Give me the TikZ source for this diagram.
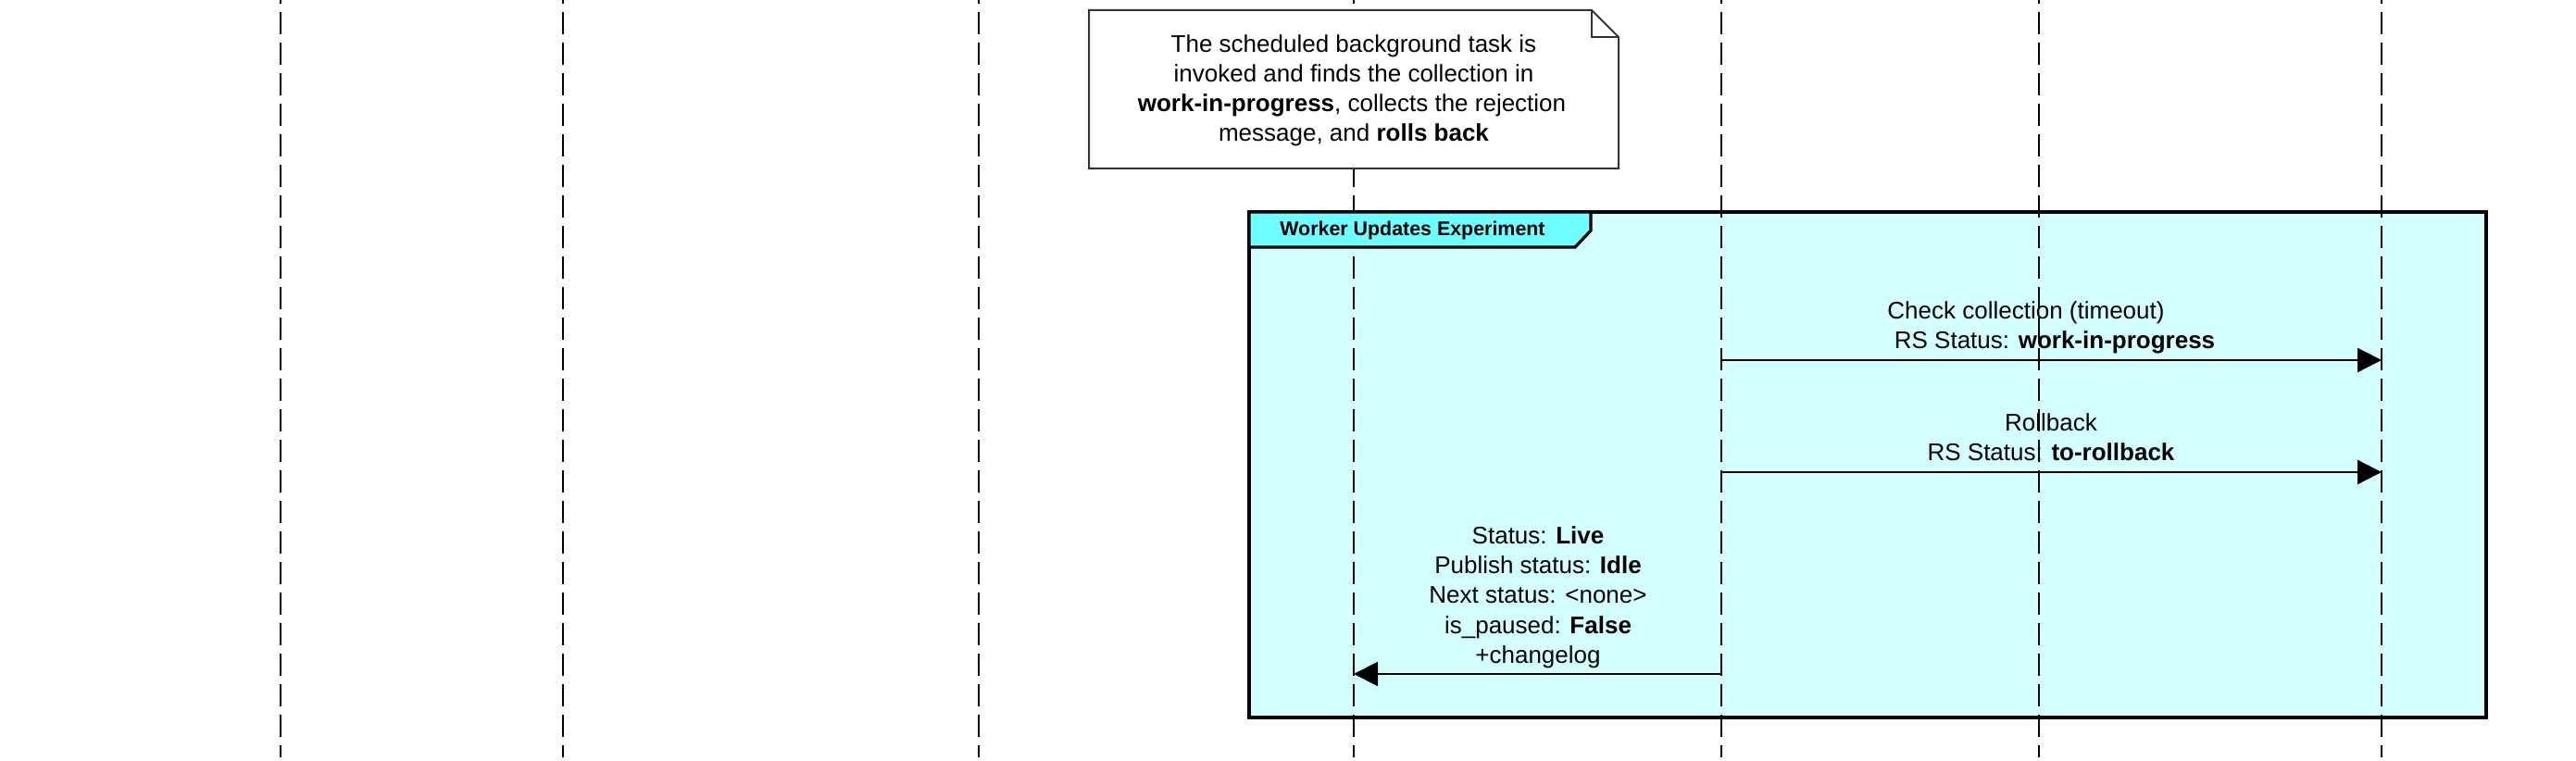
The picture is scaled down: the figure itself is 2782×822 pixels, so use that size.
\documentclass[tikz,border=0pt]{standalone}
\usepackage{fontspec}
\setmainfont{Liberation Sans}
\usetikzlibrary{arrows.meta}
\definecolor{boxfill}{HTML}{D4FFFF}
\definecolor{tabfill}{HTML}{70FFFF}
\definecolor{linegray}{HTML}{333333}
\begin{document}
\begin{tikzpicture}[x=0.5pt,y=-0.5pt,
 lifeline/.style={draw=black, line width=1pt, dash pattern=on 12pt off 4.5pt, dash phase=10pt},
 msg/.style={draw=black, line width=1.1pt, -{Triangle[length=13pt,width=13pt]}},
 txt/.style={inner sep=0pt, anchor=base, font=\fontsize{13}{16}\selectfont},
 tabtxt/.style={inner sep=0pt, anchor=base west, font=\fontsize{10.7}{13}\selectfont\bfseries},
 framebox/.style={draw=black, fill=boxfill, line width=2pt},
 tabbox/.style={draw=black, fill=tabfill, line width=1.6pt, line join=miter},
 notebox/.style={draw=linegray, fill=white, line width=1pt, line join=miter},
]
\useasboundingbox (0,0) rectangle (2782,822);
% combined fragment frame
\coordinate (fNW) at (1349,229);
\coordinate (fSE) at (2685,775);
\draw[framebox] (fNW) rectangle (fSE);
% lifelines
\foreach \i/\x in {1/303,2/608,3/1057,4/1462,5/1859,6/2202,7/2572} {
  \coordinate (top\i) at (\x,0);
  \coordinate (bot\i) at (\x,818);
  \draw[lifeline] (top\i) -- (bot\i);
}
% tab
\coordinate (t1) at (1349,229);
\coordinate (t2) at (1718,229);
\coordinate (t3) at (1718,249);
\coordinate (t4) at (1701,267);
\coordinate (t5) at (1349,267);
\draw[tabbox] (t1) -- (t2) -- (t3) -- (t4) -- (t5) -- cycle;
\node[tabtxt] (tablabel) at (1382,255) {Worker Updates Experiment};
% note
\coordinate (n1) at (1176,11);
\coordinate (n2) at (1719,11);
\coordinate (n3) at (1748,40);
\coordinate (n4) at (1748,182);
\coordinate (n5) at (1176,182);
\coordinate (nf) at (1719,40);
\draw[notebox] (n1) -- (n2) -- (n3) -- (n4) -- (n5) -- cycle;
\draw[notebox, fill=none] (n2) -- (nf) -- (n3);
\node[txt] (note1) at (1462,57) {The scheduled background task is};
\node[txt] (note2) at (1462,89) {invoked and finds the collection in};
\node[txt] (note3) at (1460,121) {\textbf{work-in-progress}, collects the rejection};
\node[txt] (note4) at (1462,153) {message, and \textbf{rolls back}};
% message 1
\coordinate (m1s) at (1859,389);
\coordinate (m1e) at (2572,389);
\draw[msg] (m1s) -- (m1e);
\node[txt] (m1l1) at (2188,345) {Check collection (timeout)};
\node[txt] (m1l2) at (2219,377) {RS Status: \textbf{work-in-progress}};
% message 2
\coordinate (m2s) at (1859,510);
\coordinate (m2e) at (2572,510);
\draw[msg] (m2s) -- (m2e);
\node[txt] (m2l1) at (2215,466) {Rollback};
\node[txt] (m2l2) at (2215,498) {RS Status: \textbf{to-rollback}};
% message 3
\coordinate (m3s) at (1859,728);
\coordinate (m3e) at (1462,728);
\draw[msg] (m3s) -- (m3e);
\node[txt] (m3l1) at (1661,588) {Status: \textbf{Live}};
\node[txt] (m3l2) at (1661,620) {Publish status: \textbf{Idle}};
\node[txt] (m3l3) at (1661,652) {Next status: <none>};
\node[txt] (m3l4) at (1661,684) {is\_paused: \textbf{False}};
\node[txt] (m3l5) at (1661,716) {+changelog};
\end{tikzpicture}
\end{document}
